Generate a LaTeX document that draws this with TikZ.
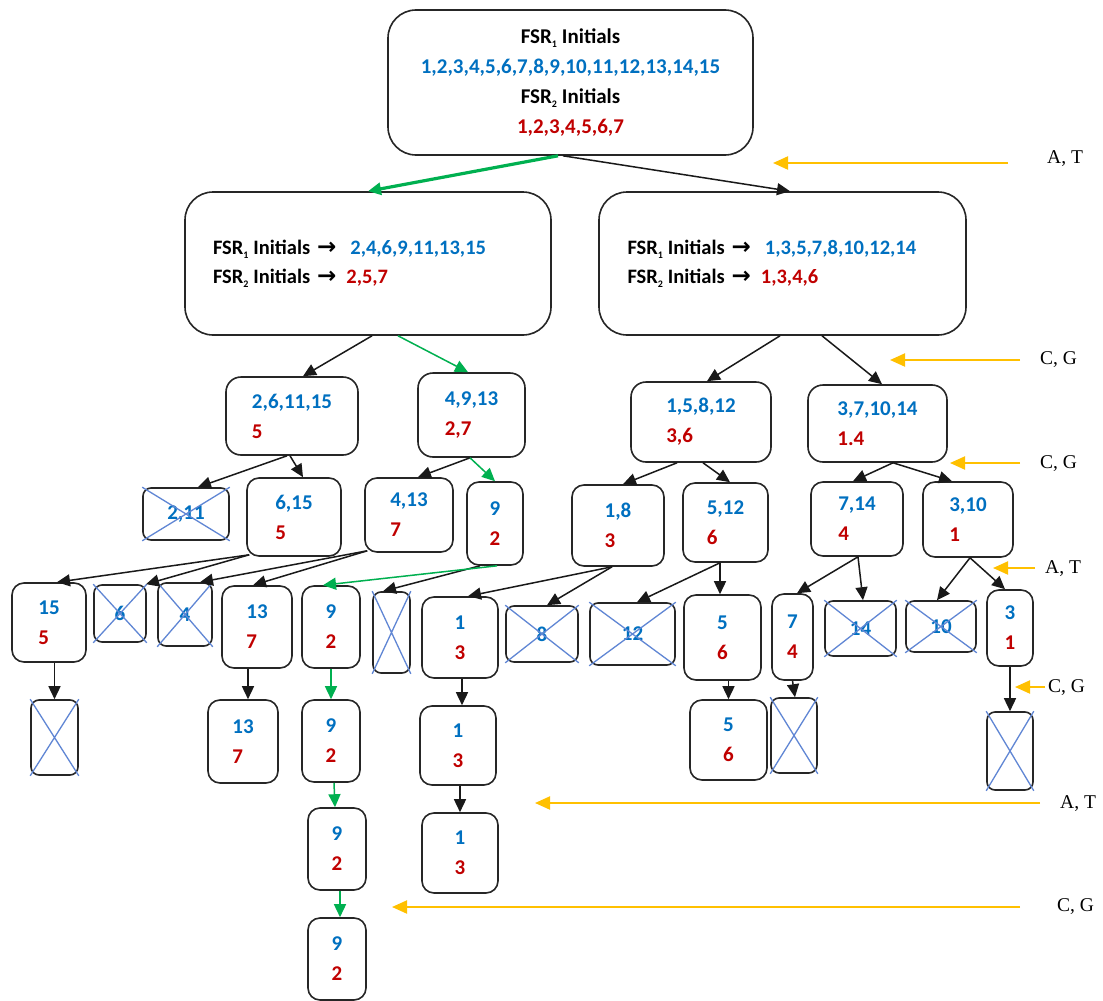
\documentclass[tikz,border=0pt]{standalone}
\usepackage{fontspec}
\setmainfont{Carlito}
\newfontfamily\labelfont{Liberation Serif}
\newfontfamily\arrowfont{DejaVu Sans}
\usetikzlibrary{arrows.meta}
\usetikzlibrary{calc}
\definecolor{fsrblue}{RGB}{0,112,192}
\definecolor{fsrred}{RGB}{192,0,0}
\definecolor{pathgreen}{RGB}{0,176,80}
\definecolor{baseyellow}{RGB}{255,192,0}
\definecolor{crossblue}{RGB}{96,134,212}
\newcommand{\bl}[1]{\textcolor{fsrblue}{#1}}
\newcommand{\rd}[1]{\textcolor{fsrred}{#1}}
\newcommand{\fsrinit}[1]{FSR\raisebox{-0.2em}{\fontsize{10}{10}\selectfont #1}\hspace{5pt}Initials}
\newcommand{\toarrow}{{\arrowfont\bfseries\fontsize{23}{23}\selectfont →}}
\tikzset{
  cell/.style={
    draw=black!85,
    line width=1.6pt,
    rounded corners=12pt,
    align=left,
    inner sep=0pt,
    font=\fontsize{21}{30}\selectfont\bfseries
  },
  sz/.style 2 args={minimum width=#1pt, minimum height=#2pt},
  midcell/.style={cell, rounded corners=15pt},
  bigcell/.style={cell, rounded corners=28pt},
  xcell/.style={cell, rounded corners=8pt, text=fsrblue},
  crossline/.style={draw=crossblue, line width=1.3pt},
  link/.style={
    draw=black!90,
    line width=1.5pt,
    -{Triangle[length=13pt,width=12pt]},
  },
  greenlink/.style={link, draw=pathgreen},
  basearrow/.style={
    draw=baseyellow,
    line width=2pt,
    -{Triangle[length=15pt,width=13pt]},
  },
  baselabel/.style={font=\labelfont\fontsize{19.5}{22}\selectfont, inner sep=0pt},
}

\begin{document}
\begin{tikzpicture}[x=1pt,y=-1pt]
  \useasboundingbox[fill=white] (0,0) rectangle (1103,1001);

  % root and first split
  \node[bigcell, sz={365}{145}, align=center] (root) at (570.5,82.5)
    {\fsrinit{1}\\\bl{1,2,3,4,5,6,7,8,9,10,11,12,13,14,15}\\\fsrinit{2}\\\rd{1,2,3,4,5,6,7}};
  \node[bigcell, sz={366}{143}, text width=310pt, font=\fontsize{20.5}{29}\selectfont\bfseries] (left) at (368,263.5)
    {\fsrinit{1} \toarrow\hspace{14pt}\bl{2,4,6,9,11,13,15}\\\fsrinit{2} \toarrow\hspace{10pt}\rd{2,5,7}};
  \node[bigcell, sz={367}{143}, text width=310pt, font=\fontsize{20.5}{29}\selectfont\bfseries] (right) at (782.5,263.5)
    {\fsrinit{1} \toarrow\hspace{14pt}\bl{1,3,5,7,8,10,12,14}\\\fsrinit{2} \toarrow\hspace{10pt}\rd{1,3,4,6}};

  % level 3
  \node[midcell, sz={132}{78}] (n2615) at (292,416) {\bl{2,6,11,15}\\\rd{5}};
  \node[midcell, sz={107}{84}] (n4913) at (471.5,415) {\bl{4,9,13}\\\rd{2,7}};
  \node[midcell, sz={140}{80}] (n15812) at (701,422) {\bl{1,5,8,12}\\\rd{3,6}};
  \node[midcell, sz={139}{77}] (n371014) at (877.5,423.5) {\bl{3,7,10,14}\\\rd{1.4}};

  % level 4
  \node[xcell, sz={86}{52}] (x211) at (186,514) {2,11};
  \node[cell, sz={94}{78}] (n615) at (294,517) {\bl{6,15}\\\rd{5}};
  \node[cell, sz={88}{74}] (n413) at (409,515) {\bl{4,13}\\\rd{7}};
  \node[cell, sz={56}{83}] (n9a) at (495,523.5) {\bl{9}\\\rd{2}};
  \node[cell, sz={92}{81}] (n18) at (618,525.5) {\bl{1,8}\\\rd{3}};
  \node[cell, sz={85}{79}] (n512) at (725.5,522.5) {\bl{5,12}\\\rd{6}};
  \node[cell, sz={92}{74}] (n714) at (857,519) {\bl{7,14}\\\rd{4}};
  \node[cell, sz={90}{75}] (n310) at (968,519.5) {\bl{3,10}\\\rd{1}};

  % level 5
  \node[cell, sz={74}{79}] (n15) at (49,622.5) {\bl{15}\\\rd{5}};
  \node[xcell, sz={52}{57}] (x6) at (120,613.5) {6};
  \node[xcell, sz={54}{63}] (x4) at (185,614.5) {4};
  \node[cell, sz={70}{82}] (n13a) at (257,627) {\bl{13}\\\rd{7}};
  \node[cell, sz={58}{82}] (n9b) at (331,627) {\bl{9}\\\rd{2}};
  \node[xcell, sz={37}{81}] (xempty) at (391.5,632.5) {};
  \node[cell, sz={76}{81}] (n1a) at (460,637.5) {\bl{1}\\\rd{3}};
  \node[xcell, sz={72}{56}] (x8) at (542,634) {8};
  \node[xcell, sz={85}{62}] (x12) at (632.5,634) {12};
  \node[cell, sz={77}{85}] (n5a) at (722.5,637.5) {\bl{5}\\\rd{6}};
  \node[cell, sz={41}{86}] (n7) at (792.5,637) {\bl{7}\\\rd{4}};
  \node[xcell, sz={71}{55}] (x14) at (860.5,628.5) {14};
  \node[xcell, sz={70}{51}] (x10) at (941,626.5) {10};
  \node[cell, sz={46}{76}] (n3) at (1010,628) {\bl{3}\\\rd{1}};

  % level 6 to 8
  \node[xcell, sz={47}{75}] (xb15) at (54.5,737.5) {};
  \node[cell, sz={70}{83}] (n13b) at (243,741.5) {\bl{13}\\\rd{7}};
  \node[cell, sz={58}{82}] (n9c) at (331,741) {\bl{9}\\\rd{2}};
  \node[cell, sz={76}{79}] (n1b) at (458,745.5) {\bl{1}\\\rd{3}};
  \node[cell, sz={77}{80}] (n5b) at (728.5,740) {\bl{5}\\\rd{6}};
  \node[xcell, sz={46}{75}] (xb7) at (794,735.5) {};
  \node[xcell, sz={46}{78}] (xb3) at (1010,751) {};
  \node[cell, sz={58}{82}] (n9d) at (337,849) {\bl{9}\\\rd{2}};
  \node[cell, sz={76}{80}] (n1c) at (460,853) {\bl{1}\\\rd{3}};
  \node[cell, sz={58}{82}] (n9e) at (337,959) {\bl{9}\\\rd{2}};

  % crosses over the dropped sets
  \foreach \c in {x211,x6,x4,xempty,x8,x12,x14,x10,xb15,xb7,xb3}
    \draw[crossline] (\c.north west) -- (\c.south east) (\c.north east) -- (\c.south west);

  % connectors
  \draw[greenlink, line width=3.2pt] ([xshift=-12.5pt]root.south) -- (left.north);
  \draw[link] ([xshift=-7.5pt]root.south) -- ([xshift=7.5pt]right.north);
  \draw[link] ([xshift=4pt]left.south) -- ([xshift=11pt]n2615.north);
  \draw[greenlink] ([xshift=30pt]left.south) -- ([xshift=-3.5pt]n4913.north);
  \foreach \a/\sa/\b/\sb in {right/-2.5/n15812/6, right/39.5/n371014/4.5,
      n2615/-5/x211/12, n2615/-2/n615/9, n4913/-1.5/n413/9,
      n15812/-24/n18/5, n15812/2/n512/4.5, n371014/15.5/n714/-4, n371014/15.5/n310/-16,
      n9a/-15/xempty/-8.5, n18/-6/n1a/8, n18/-6/x8/5, n512/-5.5/x12/4.5, n512/-5.5/n5a/-2.5,
      n714/1/n7/4.5, n714/1/x14/2.5, n310/2/x10/-4, n310/2/n3/-5, n7/0/xb7/1, n3/0/xb3/0}
    \draw[link] ([xshift=\sa pt]\a.south) -- ([xshift=\sb pt]\b.north);
  \draw[greenlink] ([xshift=-1.5pt]n4913.south) -- (n9a.north);
  \draw[greenlink] ([xshift=2pt]n9a.south) -- ([xshift=-8pt]n9b.north);
  \draw[link] ([xshift=3pt,yshift=2pt]n615.south west) -- ([xshift=8pt]n15.north);
  \draw[link] ([xshift=3pt,yshift=2pt]n615.south west) -- ([xshift=26pt]x6.north);
  \draw[link] ([xshift=3pt,yshift=2pt]n413.south west) -- ([xshift=15pt]x4.north);
  \draw[link] ([xshift=3pt,yshift=2pt]n413.south west) -- ([xshift=-4pt]n13a.north);
  \draw[link] (xb15.north |- n15.south) -- (xb15.north);
  \draw[link] ([xshift=5pt]n13b.north |- n13a.south) -- ([xshift=5pt]n13b.north);
  \draw[greenlink] (n9b.south) -- (n9c.north);
  \draw[link] ([xshift=2pt]n1a.south) -- ([xshift=2pt]n1a.south |- n1b.north);
  \draw[link] (n5b.north |- n5a.south) -- (n5b.north);
  \draw[greenlink] ([xshift=3pt]n9c.south) -- ([xshift=-2pt]n9d.north);
  \draw[greenlink] ([xshift=3pt]n9d.south) -- ([xshift=3pt]n9e.north);
  \draw[link] (n1c.north |- n1b.south) -- (n1c.north);

  % base pair markers
  \foreach \yy/\xs/\xe/\xl/\yl/\txt [count=\i] in {163/1008/773/1047/163/{A, T},
      360/1020/890/1040/364/{C, G}, 463/1020/950/1040/468/{C, G},
      568/1035/993/1045/573/{A, T}, 687/1045/1015/1048/692/{C, G},
      803/1040/535/1060/808/{A, T}, 907/1020/392/1057/911/{C, G}}{
    \coordinate (ys\i) at (\xs,\yy);
    \coordinate (ye\i) at (\xe,\yy);
    \draw[basearrow] (ys\i) -- (ye\i);
    \node[baselabel, anchor=base west] (lab\i) at (\xl,\yl) {\txt};
  }
\end{tikzpicture}
\end{document}
